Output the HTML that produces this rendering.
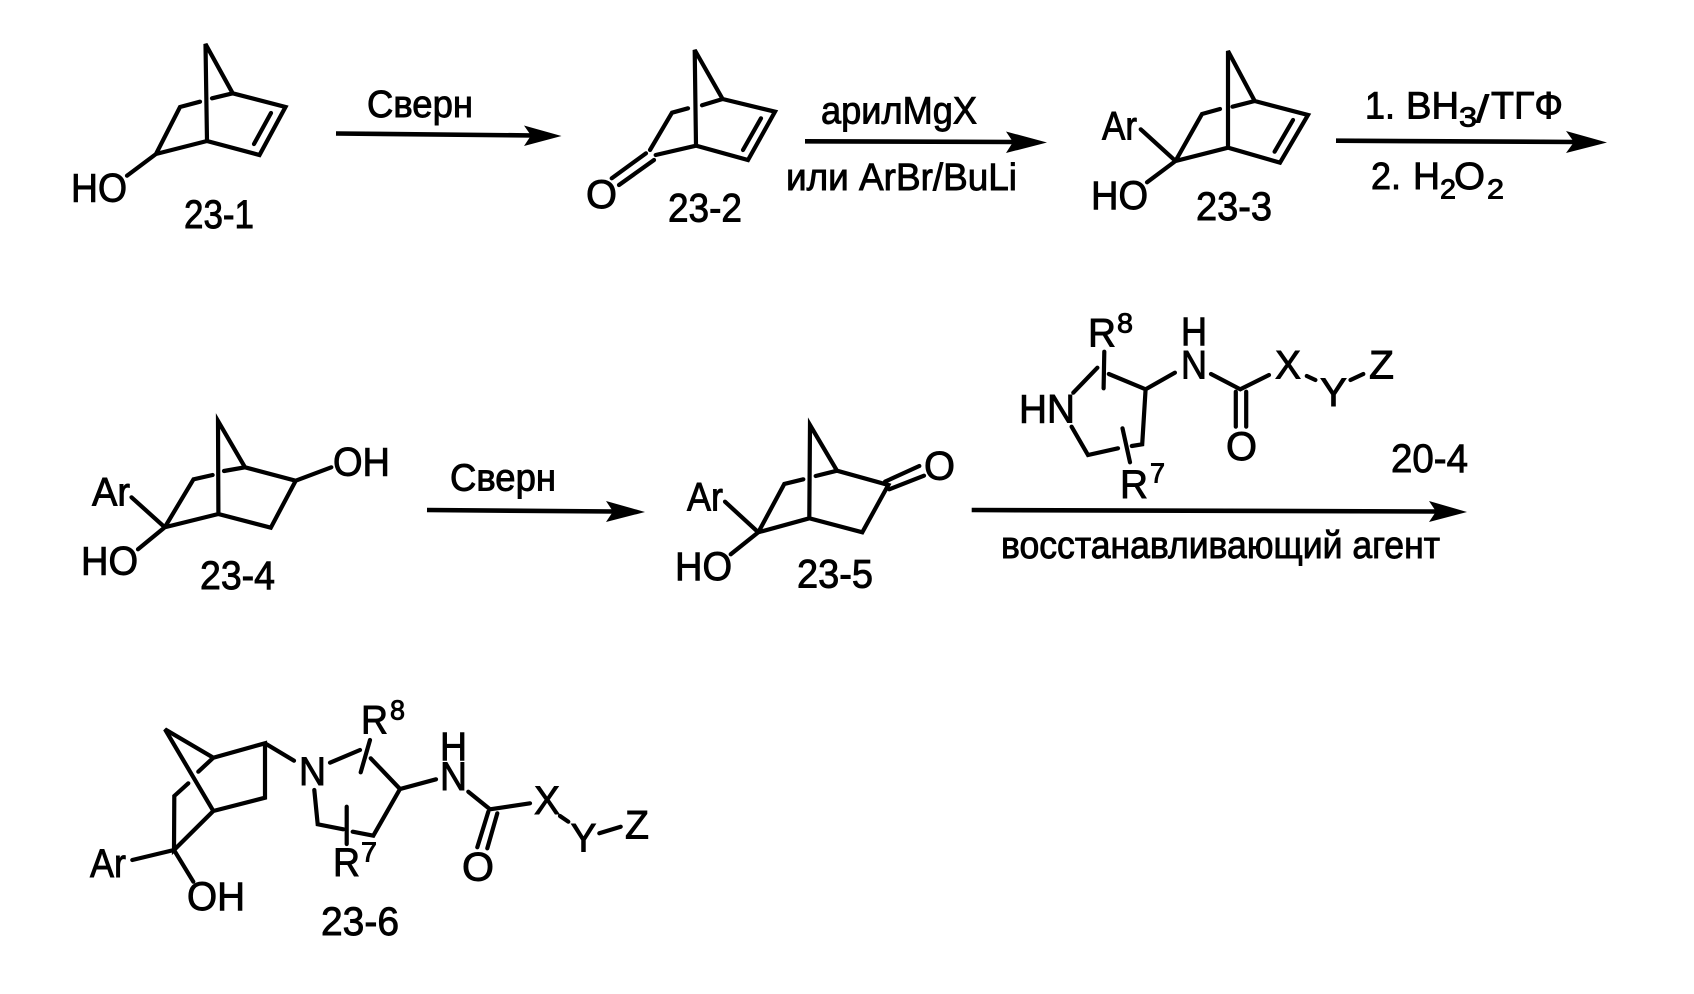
<!DOCTYPE html>
<html lang="ru">
<head>
<meta charset="utf-8">
<title>Схема 23</title>
<style>
html,body{margin:0;padding:0;background:#fff;width:1694px;height:994px;overflow:hidden}
svg{display:block}
text{font-family:"Liberation Sans",Arial,sans-serif;fill:#000;stroke:#000;stroke-width:.9px;font-size:40px}
.r{font-size:38px}
.s{font-size:28px}
.b{fill:none;stroke:#000;stroke-width:4.2;stroke-linecap:round;stroke-linejoin:miter}
.a{fill:none;stroke:#000;stroke-width:4.6}
</style>
</head>
<body>
<svg width="1694" height="994" viewBox="0 0 1694 994" xmlns="http://www.w3.org/2000/svg">
<defs></defs>

<!-- 23-1 -->
<path class="b" d="M232.7 93.3L205.5 44L207 141L259.5 155L285.5 107L232.7 93.3L212 98.3M271 113L254 144M200 101.7L180 107L156 154L207 141M156 154L127 175.7"/>
<text x="71" y="201.7" textLength="56" lengthAdjust="spacingAndGlyphs">HO</text>
<text x="184" y="228" textLength="70" lengthAdjust="spacingAndGlyphs">23-1</text>

<!-- arrow 1 -->
<path class="a" d="M336 133.5L535 135.5"/>
<polygon points="561.5,136 524,125.5 531,135.5 524,146"/>
<text class="r" x="367" y="117" textLength="106" lengthAdjust="spacingAndGlyphs">Сверн</text>

<!-- 23-2 -->
<path class="b" d="M722.6 99L694.7 50L696 145.7L748 160L775 111.7L722.6 99L702 105.3M761 118.3L743 150M688 108.3L672 112.7L650 150M696 145.7L655.7 155M611.7 178.3L646 153.3M619 185L654 160"/>
<text x="586" y="208" textLength="31" lengthAdjust="spacingAndGlyphs">O</text>
<text x="668" y="221.7" textLength="74" lengthAdjust="spacingAndGlyphs">23-2</text>

<!-- arrow 2 -->
<path class="a" d="M805 141.3L1018 142"/>
<polygon points="1047,142.5 1006,131.5 1013,142 1006,153"/>
<text class="r" x="821" y="123.3" textLength="156" lengthAdjust="spacingAndGlyphs">арилMgX</text>
<text class="r" x="786" y="190" textLength="231" lengthAdjust="spacingAndGlyphs">или ArBr/BuLi</text>

<!-- 23-3 -->
<path class="b" d="M1254.7 101L1228 51L1228 147.7L1280 162.7L1308 115L1254.7 101L1232.5 106.7M1293 120L1274.6 151.7M1220 109L1202 114L1175.5 161L1228 147.7M1140.7 129.3L1175.5 161L1147 182.3"/>
<text x="1102" y="139.3" textLength="35" lengthAdjust="spacingAndGlyphs">Ar</text>
<text x="1091" y="209" textLength="57" lengthAdjust="spacingAndGlyphs">HO</text>
<text x="1196" y="220" textLength="76" lengthAdjust="spacingAndGlyphs">23-3</text>

<!-- arrow 3 -->
<path class="a" d="M1336 140.7L1578 142"/>
<polygon points="1607,142.5 1566,131 1574,142 1566,153"/>
<text class="r" x="1365" y="118.3" textLength="30" lengthAdjust="spacingAndGlyphs">1.</text>
<text class="r" x="1406" y="118.3" textLength="53" lengthAdjust="spacingAndGlyphs">BH</text>
<text class="s" x="1459" y="126.7" textLength="18" lengthAdjust="spacingAndGlyphs">3</text>
<text class="r" x="1476" y="122" textLength="13" lengthAdjust="spacingAndGlyphs">/</text>
<text class="r" x="1491" y="118.3" textLength="72" lengthAdjust="spacingAndGlyphs">ТГФ</text>
<text class="r" x="1371" y="189" textLength="30" lengthAdjust="spacingAndGlyphs">2.</text>
<text class="r" x="1413" y="189" textLength="27" lengthAdjust="spacingAndGlyphs">H</text>
<text class="s" x="1440" y="198.3" textLength="16" lengthAdjust="spacingAndGlyphs">2</text>
<text class="r" x="1454" y="189" textLength="31" lengthAdjust="spacingAndGlyphs">O</text>
<text class="s" x="1487" y="198.3" textLength="17" lengthAdjust="spacingAndGlyphs">2</text>

<!-- 23-4 -->
<path class="b" d="M245 467.3L218 421L218.4 514L270.8 527.7L295.7 480.7L245 467.3L224 471M212.6 475L193.5 479.3L164.8 527.3L218.4 514M131.5 497.3L164.8 527.3L138 549.3M295.7 480.7L331.3 467.3"/>
<text x="333" y="475.7" textLength="57" lengthAdjust="spacingAndGlyphs">OH</text>
<text x="92" y="505.7" textLength="38" lengthAdjust="spacingAndGlyphs">Ar</text>
<text x="81" y="574.3" textLength="57" lengthAdjust="spacingAndGlyphs">HO</text>
<text x="200" y="589" textLength="75" lengthAdjust="spacingAndGlyphs">23-4</text>

<!-- arrow 4 -->
<path class="a" d="M427 510L615 511.5"/>
<polygon points="645,512 606,501 613,511.5 606,522"/>
<text class="r" x="450" y="490.7" textLength="106" lengthAdjust="spacingAndGlyphs">Сверн</text>

<!-- 23-5 -->
<path class="b" d="M837 470.7L810 425L809.3 518.3L862.3 532.3L888.3 485L837 470.7L815.7 476M803.3 479.3L784.3 484L758.3 532.3L809.3 518.3M725 501.7L758.3 532.3L730.7 554.3M885 481.7L919.3 466M889.3 489.3L924 475.7"/>
<text x="924" y="479.3" textLength="31" lengthAdjust="spacingAndGlyphs">O</text>
<text x="687" y="510.7" textLength="36" lengthAdjust="spacingAndGlyphs">Ar</text>
<text x="675" y="580" textLength="57" lengthAdjust="spacingAndGlyphs">HO</text>
<text x="797" y="587.3" textLength="76" lengthAdjust="spacingAndGlyphs">23-5</text>

<!-- 20-4 -->
<path class="b" d="M1073.3 392.7L1097.4 367.7M1104.3 351.7L1103.6 388.3M1108.8 374L1145.6 389.3L1174.9 372.7M1145.6 389.3L1142.2 444.3L1131.8 446M1122.5 428.3L1130 462.3M1118 448.3L1088 455L1071.6 426.7M1211 374L1240.3 389.3L1269 375M1235.8 391.7L1235.8 426.7M1246.2 391.7L1246.2 426.7M1306.8 376L1315.4 380M1350.5 380L1363.3 374"/>
<text x="1088" y="346.7" textLength="28" lengthAdjust="spacingAndGlyphs">R</text>
<text class="s" x="1117" y="332.3" textLength="16" lengthAdjust="spacingAndGlyphs">8</text>
<text x="1181" y="345" textLength="26" lengthAdjust="spacingAndGlyphs">H</text>
<text x="1181" y="378.3" textLength="26" lengthAdjust="spacingAndGlyphs">N</text>
<text x="1275" y="378.3" textLength="26" lengthAdjust="spacingAndGlyphs">X</text>
<text x="1369" y="378.3" textLength="25" lengthAdjust="spacingAndGlyphs">Z</text>
<text x="1320" y="406" textLength="27" lengthAdjust="spacingAndGlyphs">Y</text>
<text x="1019" y="422.7" textLength="56" lengthAdjust="spacingAndGlyphs">HN</text>
<text x="1226" y="460" textLength="31" lengthAdjust="spacingAndGlyphs">O</text>
<text x="1391" y="472" textLength="77" lengthAdjust="spacingAndGlyphs">20-4</text>
<text x="1120" y="498" textLength="28" lengthAdjust="spacingAndGlyphs">R</text>
<text class="s" x="1150" y="482.7" textLength="15" lengthAdjust="spacingAndGlyphs">7</text>

<!-- arrow 5 -->
<path class="a" d="M971.7 510L1437 511.5"/>
<polygon points="1467,512 1429,501 1436,511.5 1429,522"/>
<text class="r" x="1001" y="558" textLength="439" lengthAdjust="spacingAndGlyphs">восстанавливающий агент</text>

<!-- 23-6 -->
<path class="b" d="M213.3 757.7L165 729.3L213.3 811L265 797.7L265 743.3L213.3 757.7L198.3 771.7M188.3 783.3L174.3 796L174 850L213.3 811M132.3 860L174 850L193.3 881.7M265 743.3L294 760.7"/>
<path class="b" d="M330 762.7L360 750M370 740L360.7 772.3M370.7 758.3L400 789L436 779.3M400 789L373.3 835.7L352.7 831.7M346.7 806.7L346.7 844M343.3 829.3L317.7 824.3L314.3 790M468.3 791.7L490 809.3L530 803.3M488.3 811.7L477.3 847.3M497.3 813.3L487.3 848.3M560 816L568.3 821.7M599.3 833.3L620.7 826.7"/>
<text x="90" y="877" textLength="36" lengthAdjust="spacingAndGlyphs">Ar</text>
<text x="187" y="910" textLength="58" lengthAdjust="spacingAndGlyphs">OH</text>
<text x="299" y="785" textLength="27" lengthAdjust="spacingAndGlyphs">N</text>
<text x="361" y="733.3" textLength="27" lengthAdjust="spacingAndGlyphs">R</text>
<text class="s" x="390" y="719.3" textLength="15" lengthAdjust="spacingAndGlyphs">8</text>
<text x="333" y="876" textLength="27" lengthAdjust="spacingAndGlyphs">R</text>
<text class="s" x="361" y="861.7" textLength="16" lengthAdjust="spacingAndGlyphs">7</text>
<text x="440" y="760" textLength="27" lengthAdjust="spacingAndGlyphs">H</text>
<text x="440" y="790" textLength="27" lengthAdjust="spacingAndGlyphs">N</text>
<text x="462" y="880.7" textLength="32" lengthAdjust="spacingAndGlyphs">O</text>
<text x="534" y="814" textLength="26" lengthAdjust="spacingAndGlyphs">X</text>
<text x="570.5" y="851.7" textLength="26" lengthAdjust="spacingAndGlyphs">Y</text>
<text x="625" y="838.3" textLength="24" lengthAdjust="spacingAndGlyphs">Z</text>
<text x="321" y="935" textLength="78" lengthAdjust="spacingAndGlyphs">23-6</text>
</svg>
</body>
</html>
